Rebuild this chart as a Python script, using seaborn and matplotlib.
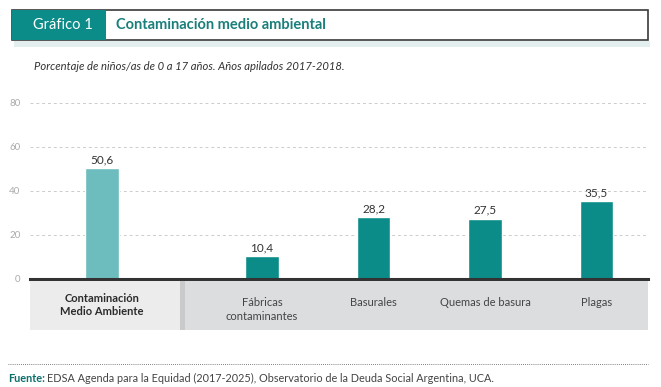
import numpy as np
import pandas as pd
import seaborn as sns
import matplotlib.pyplot as plt
from matplotlib.patches import Rectangle
from matplotlib.lines import Line2D

# --- data ---
categories = ['Contaminación\nMedio Ambiente', 'Fábricas\ncontaminantes', 'Basurales',
              'Quemas de basura', 'Plagas']
values = [50.6, 10.4, 28.2, 27.5, 35.5]
value_labels = ['50,6', '10,4', '28,2', '27,5', '35,5']
yticks = [0, 20, 40, 60, 80]

TEAL = '#0b8c88'
TEAL_LIGHT = '#6dbdbe'
W, H = 661, 387

sns.set_style('white')
plt.rcParams['font.family'] = ['Lato', 'DejaVu Sans']

fig = plt.figure(figsize=(W / 100, H / 100), dpi=100)

def fx(px):
    return px / W

def fy(py):
    return 1 - py / H

# header box
fig.add_artist(Rectangle((fx(14), fy(47)), fx(636), 6 / H, transform=fig.transFigure,
                         facecolor='#e3eeee', edgecolor='none'))
fig.add_artist(Rectangle((fx(12), fy(40)), fx(636), 30 / H, transform=fig.transFigure,
                         facecolor='white', edgecolor='#3a3a3a', linewidth=1.2))
fig.add_artist(Rectangle((fx(12), fy(40)), fx(94), 30 / H, transform=fig.transFigure,
                         facecolor=TEAL, edgecolor='none'))
fig.text(fx(33), fy(25), 'Gráfico 1', color='white', fontsize=10.5, va='center')
fig.text(fx(116), fy(25), 'Contaminación medio ambiental', color='#1a7f7a', fontsize=10.5,
         fontweight='bold', va='center')
fig.text(fx(34), fy(67), 'Porcentaje de niños/as de 0 a 17 años. Años apilados 2017-2018.',
         color='#333333', fontsize=8.1, style='italic', va='center')

# gray label band under the axis
fig.add_artist(Rectangle((fx(30), fy(330)), fx(150), 49 / H, transform=fig.transFigure,
                         facecolor='#ececed', edgecolor='none'))
fig.add_artist(Rectangle((fx(180), fy(330)), fx(468), 49 / H, transform=fig.transFigure,
                         facecolor='#dcdddf', edgecolor='none'))
fig.add_artist(Rectangle((fx(180), fy(330)), fx(5), 49 / H, transform=fig.transFigure,
                         facecolor='#c9cacc', edgecolor='none'))

# axes
ax = fig.add_axes([fx(30), fy(279), fx(618), (279 - 103) / H])

# first category set apart from the rest
gap = 0.435
xpos = [i + (gap if i > 0 else 0) for i in range(len(categories))]
df = pd.DataFrame({'x': xpos, 'value': values, 'cat': categories})
colors = [TEAL_LIGHT] + [TEAL] * (len(categories) - 1)
sns.barplot(data=df, x='x', y='value', hue='cat', palette=colors, native_scale=True,
            width=0.3, legend=False, ax=ax, saturation=1)

for x, v, lab in zip(xpos, values, value_labels):
    ax.text(x, v + 1.2, lab, ha='center', va='bottom', fontsize=8.5, color='#333333')

ax.set_xlim(-0.646, 4.897)
ax.set_ylim(0, 80)
ax.set_yticks(yticks)
ax.set_yticklabels([str(t) for t in yticks], color='#aaaaaa', fontsize=7)
ax.tick_params(axis='y', length=0, pad=7)
ax.set_xticks([])
ax.set_xlabel('')
ax.set_ylabel('')
for t in yticks[1:]:
    ax.axhline(t, color='#cccccc', linestyle=(0, (3, 3)), linewidth=0.7, zorder=0)
for s in ['top', 'right', 'left']:
    ax.spines[s].set_visible(False)
ax.spines['bottom'].set_color('#333333')
ax.spines['bottom'].set_linewidth(2.2)
ax.set_facecolor('none')

# category labels in the band
for i, (x, c) in enumerate(zip(xpos, categories)):
    xf = fx(102 + x * 111.5)
    if i == 0:
        fig.text(xf, fy(305), c, ha='center', va='center', fontsize=8, fontweight='bold',
                 color='#2b2b2b', linespacing=1.3)
    else:
        fig.text(xf, fy(297), c, ha='center', va='top', fontsize=8, color='#444444',
                 linespacing=1.3)

# footer
fig.add_artist(Line2D([fx(8), fx(648)], [fy(364), fy(364)], transform=fig.transFigure,
                      color='#555555', linestyle=(0, (1, 1.5)), linewidth=0.6))
fig.text(fx(8), fy(378), 'Fuente:', fontsize=7.8, fontweight='bold', color='#0b6f6b', va='center')
fig.text(fx(47.5), fy(378), 'EDSA Agenda para la Equidad (2017-2025), Observatorio de la Deuda Social Argentina, UCA.',
         fontsize=7.8, color='#444444', va='center')

fig.savefig('out.png', dpi=100)
